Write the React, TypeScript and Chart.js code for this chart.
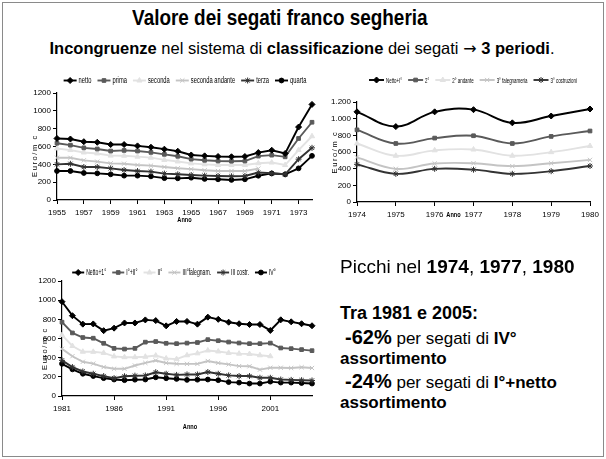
import React, { useEffect, useRef } from 'react';
import { Chart, registerables } from 'chart.js';
import { drawPoint } from 'chart.js/helpers';

Chart.register(...registerables);

// ---------- DATA ----------
const years1 = ['1955','1956','1957','1958','1959','1960','1961','1962','1963','1964','1965','1966','1967','1968','1969','1970','1971','1972','1973','1974'];
const netto1 = [690, 684, 654, 647, 622, 622, 607, 592, 570, 547, 505, 495, 488, 485, 488, 532, 558, 522, 818, 1072];
const prima1 = [637, 615, 585, 572, 549, 556, 549, 534, 512, 490, 458, 445, 437, 435, 437, 492, 503, 484, 690, 872];
const seconda1 = [578, 560, 533, 522, 498, 497, 486, 475, 450, 432, 411, 400, 392, 392, 392, 412, 420, 392, 560, 715];
const secondaAndante1 = [474, 473, 445, 430, 411, 407, 393, 385, 370, 356, 346, 333, 325, 325, 325, 352, null, null, null, null];
const terza1 = [400, 406, 370, 370, 355, 336, 325, 318, 296, 288, 280, 273, 269, 266, 269, 308, 300, 288, 458, 585];
const quarta1 = [325, 325, 303, 299, 288, 273, 273, 265, 245, 243, 250, 236, 232, 225, 232, 272, 298, 288, 355, 495];

const years2 = ['1974','1975','1976','1977','1978','1979','1980'];
const nettoI2 = [1082, 905, 1082, 1108, 950, 1032, 1116];
const sec2 = [866, 702, 767, 795, 702, 787, 852];
const secAnd2 = [702, 555, 620, 630, 555, 598, 672];
const terFal2 = [535, 398, 462, 465, 430, 465, 505];
const terCos2 = [452, 338, 398, 388, 338, 370, 432];

const years3 = ['1981','1982','1983','1984','1985','1986','1987','1988','1989','1990','1991','1992','1993','1994','1995','1996','1997','1998','1999','2000','2001','2002','2003','2004','2005'];
const netto3 = [984, 838, 750, 752, 682, 708, 762, 762, 794, 787, 732, 778, 778, 750, 823, 800, 770, 754, 746, 746, 684, 795, 774, 754, 733];
const primaSec3 = [770, 658, 610, 603, 550, 497, 490, 497, 562, 568, 550, 546, 552, 558, 588, 577, 563, 553, 546, 546, 552, 501, 494, 484, 473];
const sec3 = [635, 522, 462, 461, 450, 413, 405, 405, 410, 422, 392, 385, 425, 445, 475, 465, 450, 442, 438, 425, 415, null, null, null, null];
const terFal3 = [492, 415, 357, 338, 302, 284, 284, 318, 345, 370, 345, 336, 335, 335, 365, 345, 330, 312, 310, 275, 295, 295, 292, 300, 292];
const terCos3 = [372, 302, 256, 232, 208, 186, 206, 212, 214, 248, 232, 220, 225, 225, 250, 232, 215, 208, 208, 190, 190, 172, 168, 165, 162];
const quarta3 = [336, 278, 232, 208, 186, 172, 165, 170, 172, 195, 185, 178, 168, 170, 172, 165, 145, 140, 130, 130, 150, 140, 140, 135, 130];

// ---------- STYLES ----------
const FONT = "'Liberation Sans', Arial, sans-serif";

type SeriesStyle = { color: string; style: string; radius: number };
const S_BLACK_DIAMOND: SeriesStyle = { color: '#000000', style: 'rectRot', radius: 3 };
const S_DARK_SQUARE: SeriesStyle = { color: '#5a5a5a', style: 'rect', radius: 2.6 };
const S_LIGHT_TRI: SeriesStyle = { color: '#e2e2e2', style: 'triangle', radius: 3 };
const S_GRAY_X: SeriesStyle = { color: '#c4c4c4', style: 'crossRot', radius: 3 };
const S_DARK_STAR: SeriesStyle = { color: '#333333', style: 'star', radius: 3 };
const S_BLACK_CIRCLE: SeriesStyle = { color: '#000000', style: 'circle', radius: 2.4 };

function ds(label: string, data: (number | null)[], s: SeriesStyle, tension = 0) {
  return {
    label,
    data,
    borderColor: s.color,
    backgroundColor: s.color,
    borderWidth: 1.9,
    pointStyle: s.style,
    pointRadius: s.radius,
    pointBackgroundColor: s.color,
    pointBorderColor: s.color,
    pointBorderWidth: 1,
    tension,
    spanGaps: false,
  };
}

// draw horizontally condensed text (the source charts are squeezed sideways)
function condensedText(ctx: CanvasRenderingContext2D, text: string, x: number, y: number, sx: number, align: CanvasTextAlign) {
  ctx.save();
  ctx.translate(x, y);
  ctx.scale(sx, 1);
  ctx.textAlign = align;
  ctx.fillText(text, 0, 0);
  ctx.restore();
}

// ---------- PLUGINS ----------
const excelLegend = {
  id: 'excelLegend',
  afterDraw(chart: any, _args: any, opts: any) {
    const ctx = chart.ctx as CanvasRenderingContext2D;
    ctx.save();
    ctx.font = opts.font;
    const sx = opts.sx ?? 1;
    const lineLen = opts.lineLen ?? 16;
    const gapT = opts.gapText ?? 2;
    const gapI = opts.gapItem ?? 7;
    const items = chart.data.datasets.map((d: any) => ({ d, w: ctx.measureText(d.label).width * sx }));
    const total = items.reduce((s: number, it: any) => s + lineLen + gapT + it.w, 0) + gapI * (items.length - 1);
    let x = opts.centerX - total / 2;
    const y = opts.y;
    for (const it of items) {
      const d = it.d;
      ctx.strokeStyle = d.borderColor;
      ctx.lineWidth = d.borderWidth;
      ctx.beginPath();
      ctx.moveTo(x, y);
      ctx.lineTo(x + lineLen, y);
      ctx.stroke();
      ctx.fillStyle = d.pointBackgroundColor;
      ctx.strokeStyle = d.pointBorderColor;
      ctx.lineWidth = 1;
      drawPoint(ctx, { pointStyle: d.pointStyle, radius: d.pointRadius, rotation: 0, borderWidth: 1 } as any, x + lineLen / 2, y);
      ctx.fillStyle = '#000';
      ctx.textBaseline = 'middle';
      ctx.font = opts.font;
      condensedText(ctx, d.label, x + lineLen + gapT, y + 0.5, sx, 'left');
      x += lineLen + gapT + it.w + gapI;
    }
    ctx.restore();
  },
};

const axisTitles = {
  id: 'axisTitles',
  afterDraw(chart: any, _args: any, opts: any) {
    const ctx = chart.ctx as CanvasRenderingContext2D;
    const a = chart.chartArea;
    ctx.save();
    ctx.fillStyle = '#000';
    ctx.textBaseline = 'middle';
    ctx.font = opts.xFont;
    condensedText(ctx, opts.xText, (a.left + a.right) / 2 + opts.xdx, a.bottom + opts.xdy, opts.sx ?? 1, 'center');
    ctx.translate(a.left + opts.ydx, (a.top + a.bottom) / 2 + opts.ydy);
    ctx.rotate(-Math.PI / 2);
    ctx.font = opts.yFont;
    (ctx as any).letterSpacing = opts.ySpacing || '0px';
    ctx.textAlign = 'center';
    ctx.fillText(opts.yText, 0, 0);
    ctx.restore();
  },
};

function itFormat(v: number) {
  if (v >= 1000) return `${Math.floor(v / 1000)}.${String(v % 1000).padStart(3, '0')}`;
  return String(v);
}

type ChartCfg = {
  labels: string[];
  datasets: any[];
  padTop: number;
  padRight: number;
  yWidth: number;
  xHeight: number;
  labelEvery: number;
  tickEvery: number;
  yFormat?: (v: number) => string;
  legend: any;
  titles: any;
};

function makeConfig(c: ChartCfg): any {
  return {
    type: 'line',
    data: { labels: c.labels, datasets: c.datasets },
    plugins: [excelLegend, axisTitles],
    options: {
      responsive: false,
      animation: false,
      events: [],
      layout: { padding: { top: c.padTop, right: c.padRight, left: 0, bottom: 0 } },
      plugins: {
        legend: { display: false },
        tooltip: { enabled: false },
        excelLegend: c.legend,
        axisTitles: c.titles,
      },
      scales: {
        x: {
          type: 'category',
          offset: false,
          afterFit: (scale: any) => { scale.height = c.xHeight; },
          grid: {
            display: true,
            drawOnChartArea: false,
            drawTicks: true,
            tickLength: 4,
            color: '#000',
            tickColor: (ctx: any) => (ctx.index % c.tickEvery === 0 ? '#000' : 'rgba(0,0,0,0)'),
          },
          border: { display: true, color: '#000', width: 1.2 },
          ticks: {
            autoSkip: false,
            maxRotation: 0,
            minRotation: 0,
            padding: 4,
            color: '#000',
            font: { family: FONT, size: 8 },
            callback: function (this: any, _v: any, i: number) {
              return i % c.labelEvery === 0 ? c.labels[i] : '';
            },
          },
        },
        y: {
          min: 0,
          max: 1200,
          afterFit: (scale: any) => { scale.width = c.yWidth; },
          grid: {
            display: true,
            drawOnChartArea: false,
            drawTicks: true,
            tickLength: 4,
            color: '#000',
          },
          border: { display: true, color: '#000', width: 1.2 },
          ticks: {
            stepSize: 200,
            padding: 2,
            color: '#000',
            font: { family: FONT, size: 8 },
            callback: (v: any) => (c.yFormat ? c.yFormat(Number(v)) : String(v)),
          },
        },
      },
    },
  };
}

function ChartBox(props: { left: number; top: number; width: number; height: number; cfg: ChartCfg }) {
  const ref = useRef<HTMLCanvasElement | null>(null);
  useEffect(() => {
    if (!ref.current) return;
    const chart = new Chart(ref.current, makeConfig(props.cfg));
    return () => chart.destroy();
  }, []);
  return (
    <canvas
      ref={ref}
      width={props.width}
      height={props.height}
      style={{ position: 'absolute', left: props.left, top: props.top, width: props.width, height: props.height }}
    />
  );
}

const legendFont = `8.5px ${FONT}`;
const anoFont = `bold 7.5px ${FONT}`;
const yTitleFont = `7.5px ${FONT}`;

const cfg1: ChartCfg = {
  labels: years1,
  datasets: [
    ds('netto', netto1, S_BLACK_DIAMOND),
    ds('prima', prima1, S_DARK_SQUARE),
    ds('seconda', seconda1, S_LIGHT_TRI),
    ds('seconda andante', secondaAndante1, S_GRAY_X),
    ds('terza', terza1, S_DARK_STAR),
    ds('quarta', quarta1, S_BLACK_CIRCLE),
  ],
  padTop: 23,
  padRight: 8,
  yWidth: 47,
  xHeight: 30,
  labelEvery: 2,
  tickEvery: 2,
  legend: { font: legendFont, sx: 0.68, centerX: 175, y: 10.5, lineLen: 13, gapText: 2, gapItem: 6 },
  titles: { xText: 'Anno', xFont: anoFont, sx: 0.75, xdx: 0, xdy: 20, yText: 'Euro/m c', yFont: yTitleFont, ySpacing: '1.6px', ydx: -22, ydy: 9 },
};

const cfg2: ChartCfg = {
  labels: years2,
  datasets: [
    ds('Netto+I°', nettoI2, S_BLACK_DIAMOND, 0.4),
    ds('2°', sec2, S_DARK_SQUARE, 0.4),
    ds('2° andante', secAnd2, S_LIGHT_TRI, 0.4),
    ds('3° falegnameria', terFal2, S_GRAY_X, 0.4),
    ds('3° costruzioni', terCos2, S_DARK_STAR, 0.4),
  ],
  padTop: 32,
  padRight: 13,
  yWidth: 39,
  xHeight: 28,
  labelEvery: 1,
  tickEvery: 1,
  yFormat: itFormat,
  legend: { font: `8px ${FONT}`, sx: 0.55, centerX: 155, y: 10, lineLen: 15, gapText: 2, gapItem: 6 },
  titles: { xText: 'Anno', xFont: anoFont, sx: 0.75, xdx: -20, xdy: 12.5, yText: 'Euro/m c', yFont: yTitleFont, ySpacing: '1.6px', ydx: -22, ydy: 0 },
};

const cfg3: ChartCfg = {
  labels: years3,
  datasets: [
    ds('Netto+1°', netto3, S_BLACK_DIAMOND),
    ds('I°+II°', primaSec3, S_DARK_SQUARE),
    ds('II°', sec3, S_LIGHT_TRI),
    ds('III°falegnam.', terFal3, S_GRAY_X),
    ds('III costr.', terCos3, S_DARK_STAR),
    ds('IV°', quarta3, S_BLACK_CIRCLE),
  ],
  padTop: 26,
  padRight: 8,
  yWidth: 52,
  xHeight: 49,
  labelEvery: 5,
  tickEvery: 5,
  legend: { font: legendFont, sx: 0.6, centerX: 164, y: 17.5, lineLen: 12, gapText: 2, gapItem: 6 },
  titles: { xText: 'Anno', xFont: anoFont, sx: 0.75, xdx: 3, xdy: 31, yText: 'Euro/m c', yFont: yTitleFont, ySpacing: '1.6px', ydx: -17, ydy: 10 },
};

const TXT = "'Liberation Sans', Arial, Helvetica, sans-serif";

export default function App() {
  const line = (top: number, left: number, size: number, children: React.ReactNode, extra: React.CSSProperties = {}) => (
    <div style={{ position: 'absolute', top, left, fontSize: size, lineHeight: `${size}px`, whiteSpace: 'nowrap', fontFamily: TXT, color: '#000', ...extra }}>
      {children}
    </div>
  );
  return (
    <div style={{ position: 'absolute', left: 0, top: 0, width: 606, height: 459, background: '#fff', overflow: 'hidden', fontFamily: TXT }}>
      <div style={{ position: 'absolute', left: 2, top: 2, width: 600, height: 453, border: '1px solid #8a8a8a' }} />
      <div style={{ position: 'absolute', left: 0, width: 560, top: 7, textAlign: 'center', fontSize: 22, lineHeight: '22px', fontWeight: 'bold', whiteSpace: 'nowrap' }}>
        <span style={{ display: 'inline-block', transform: 'scaleX(0.86)' }}>Valore dei segati franco segheria</span>
      </div>
      <div style={{ position: 'absolute', left: 0, width: 604, top: 39.5, textAlign: 'center', fontSize: 16.5, lineHeight: '16.5px', whiteSpace: 'nowrap' }}>
        <b>Incongruenze</b> nel sistema di <b>classificazione</b> dei segati <span style={{ fontFamily: "'DejaVu Sans', sans-serif", fontSize: 16 }}>→</span> <b>3 periodi</b>.
      </div>

      <ChartBox left={10} top={70} width={310} height={160} cfg={cfg1} />
      <ChartBox left={318} top={70} width={285} height={160} cfg={cfg2} />
      <ChartBox left={10} top={255} width={310} height={190} cfg={cfg3} />

      {line(257, 340, 19, <>Picchi nel <b>1974</b>, <b>1977</b>, <b>1980</b></>)}
      {line(304, 340, 18, <b>Tra 1981 e 2005:</b>)}
      {line(327, 345, 20, <><b>-62%</b><span style={{ fontSize: 17 }}> per segati di <b>IV°</b></span></>)}
      {line(349.6, 340, 17, <b>assortimento</b>)}
      {line(371, 345, 20, <><b>-24%</b><span style={{ fontSize: 17 }}> per segati di <b>I°+netto</b></span></>)}
      {line(393.6, 340, 17, <b>assortimento</b>)}
    </div>
  );
}
